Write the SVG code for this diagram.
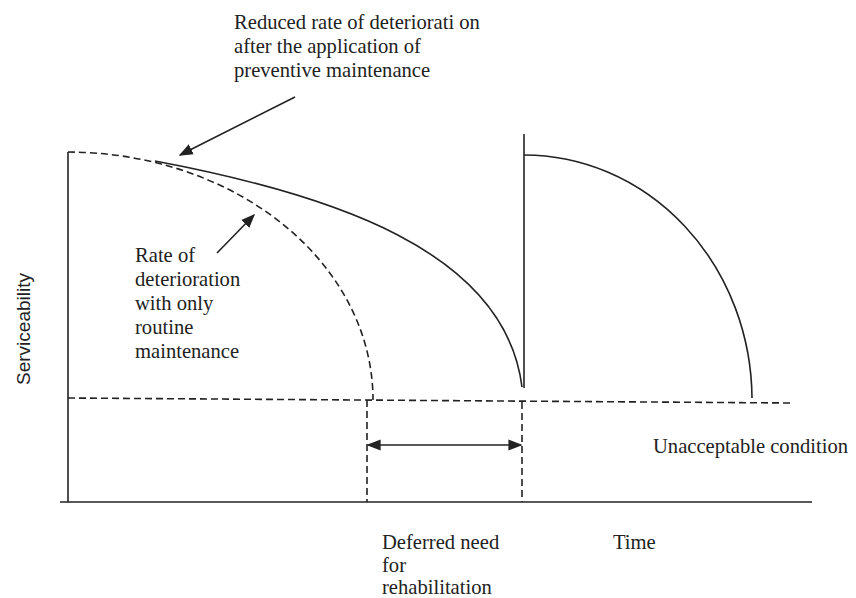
<svg xmlns="http://www.w3.org/2000/svg" width="856" height="598" viewBox="0 0 856 598">
<defs>
<style>
.t{font-family:"Liberation Serif","Times New Roman",serif;font-size:20.6px;fill:#222}
.s{font-family:"Liberation Sans",Arial,sans-serif;font-size:19px;fill:#222}
.ln{fill:none;stroke:#222;stroke-width:1.6}
.dl{fill:none;stroke:#222;stroke-width:1.6;stroke-dasharray:7 4}
</style>
<marker id="ah2" viewBox="0 0 10 10" refX="9" refY="5" markerWidth="14" markerHeight="14" markerUnits="userSpaceOnUse" orient="auto-start-reverse">
<path d="M0,1 L10,5 L0,9 Z" fill="#222"/>
</marker>
</defs>
<rect width="856" height="598" fill="#fff"/>
<g id="axes">
<line class="ln" x1="68" y1="152" x2="68" y2="502"/>
<line class="ln" x1="60" y1="502" x2="812" y2="502"/>
</g>
<g id="threshold">
<line class="dl" x1="68" y1="398" x2="793" y2="403"/>
</g>
<g id="curves">
<path id="routine" class="dl" d="M68,152 A306,248 0 0 1 373,400"/>
<path id="preventive" class="ln" d="M155,161 C330,194 505,250 522,387"/>
<line id="rehab" class="ln" x1="524" y1="134" x2="524" y2="388"/>
<path id="after" class="ln" d="M524,155 A228,245 0 0 1 752,398"/>
<line class="dl" x1="367" y1="400" x2="367" y2="502"/>
<line class="dl" x1="522" y1="402" x2="522" y2="502"/>
</g>
<g id="connectors">
<line class="ln" x1="295" y1="97" x2="180" y2="155" marker-end="url(#ah2)"/>
<line class="ln" x1="217" y1="253" x2="254" y2="215" marker-end="url(#ah2)"/>
<line class="ln" x1="368" y1="445" x2="521" y2="445" marker-start="url(#ah2)" marker-end="url(#ah2)"/>
</g>
<g id="label-reduced">
<text class="t" x="234" y="29">Reduced rate of deteriorati on</text>
<text class="t" x="234" y="53">after the application of</text>
<text class="t" x="234" y="77">preventive maintenance</text>
</g>
<g id="label-routine">
<text class="t" x="135" y="262">Rate of</text>
<text class="t" x="135" y="286">deterioration</text>
<text class="t" x="135" y="310">with only</text>
<text class="t" x="135" y="334">routine</text>
<text class="t" x="135" y="358">maintenance</text>
</g>
<g id="label-y">
<text class="s" transform="translate(30,329) rotate(-90)" text-anchor="middle">Serviceability</text>
</g>
<g id="label-unacceptable">
<text class="t" x="653" y="453">Unacceptable condition</text>
</g>
<g id="label-deferred">
<text class="t" x="382" y="549">Deferred need</text>
<text class="t" x="382" y="572">for</text>
<text class="t" x="382" y="594">rehabilitation</text>
</g>
<g id="label-time">
<text class="t" x="613" y="549">Time</text>
</g>
</svg>
